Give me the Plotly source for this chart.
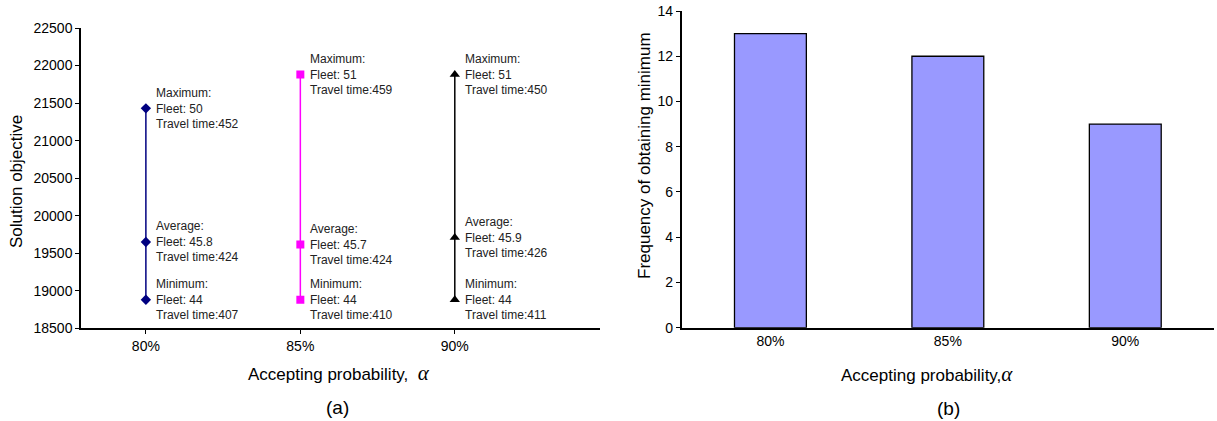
import plotly.graph_objects as go

# ---------------- data ----------------
categories = ["80%", "85%", "90%"]
max_obj = [21430, 21880, 21880]
avg_obj = [19650, 19615, 19710]
min_obj = [18880, 18880, 18880]
max_fleet = ["50", "51", "51"]
max_time = ["452", "459", "450"]
avg_fleet = ["45.8", "45.7", "45.9"]
avg_time = ["424", "424", "426"]
min_fleet = ["44", "44", "44"]
min_time = ["407", "410", "411"]
freq_min = [13, 12, 9]

y1_ticks = [18500, 19000, 19500, 20000, 20500, 21000, 21500, 22000, 22500]
y2_ticks = [0, 2, 4, 6, 8, 10, 12, 14]

# ---------------- styles ----------------
W, H = 1217, 421
FONT = "Liberation Sans, Arial, sans-serif"
series_colors = ["#000080", "#FF00FF", "#000000"]
series_symbols = ["diamond", "square", "triangle-up"]
series_sizes = [8, 8, 9]

fig = go.Figure()

for i, cat in enumerate(categories):
    fig.add_trace(go.Scatter(
        x=[cat, cat, cat],
        y=[min_obj[i], avg_obj[i], max_obj[i]],
        mode="lines+markers",
        line=dict(color=series_colors[i], width=1.5),
        marker=dict(symbol=series_symbols[i], size=series_sizes[i], color=series_colors[i]),
        xaxis="x", yaxis="y", showlegend=False, hoverinfo="skip",
    ))

fig.add_trace(go.Bar(
    x=categories, y=freq_min, width=0.405,
    marker=dict(color="#9999FF", line=dict(color="#000000", width=1.3)),
    xaxis="x2", yaxis="y2", showlegend=False, hoverinfo="skip",
))

annotations = []
for i, cat in enumerate(categories):
    for label, yv, fl, tt in [
        ("Maximum:", max_obj[i], max_fleet[i], max_time[i]),
        ("Average:", avg_obj[i], avg_fleet[i], avg_time[i]),
        ("Minimum:", min_obj[i], min_fleet[i], min_time[i]),
    ]:
        annotations.append(dict(
            x=cat, y=yv, xref="x", yref="y",
            text=f"{label}<br>Fleet: {fl}<br>Travel time:{tt}",
            showarrow=False, xanchor="left", yanchor="middle", align="left",
            xshift=8, font=dict(family=FONT, size=12, color="#222222"),
        ))

def px(xp, yp):
    return xp / W, 1 - yp / H

alpha = ("<span style='font-family:Liberation Serif, Times New Roman, serif;"
         "font-size:21px'><i>α</i></span>")

for (xp, yp), text, size, angle in [
    ((16, 182), "Solution objective", 17, -90),
    ((339, 373), "Accepting probability,  " + alpha, 17, 0),
    ((337, 407), "(a)", 19, 0),
    ((644, 156), "Frequency of obtaining minimum", 17, -90),
    ((927, 374), "Accepting probability," + alpha, 17, 0),
    ((948, 408), "(b)", 19, 0),
]:
    x, y = px(xp, yp)
    annotations.append(dict(
        x=x, y=y, xref="paper", yref="paper", text=text, showarrow=False,
        xanchor="center", yanchor="middle", textangle=angle,
        font=dict(family=FONT, size=size, color="#000000"),
    ))

axis_common = dict(showgrid=False, zeroline=False, showline=True, linecolor="#000000",
                   linewidth=1.5, mirror=False, automargin=False,
                   tickfont=dict(family=FONT, size=14, color="#000000"))

fig.update_layout(
    width=W, height=H,
    margin=dict(l=0, r=0, t=0, b=0, pad=0, autoexpand=False),
    paper_bgcolor="#FFFFFF", plot_bgcolor="#FFFFFF",
    annotations=annotations,
    xaxis=dict(domain=[81 / W, 600 / W], type="category", range=[-0.42, 2.94],
               ticks="outside", ticklen=4, tickcolor="#000000", anchor="y", **axis_common),
    yaxis=dict(domain=[1 - 328.3 / H, 1 - 28 / H], range=[18500, 22500],
               tickvals=y1_ticks, tickformat="d", ticks="outside", ticklen=4,
               tickcolor="#000000", anchor="x", **axis_common),
    xaxis2=dict(domain=[681.7 / W, 1214 / W], type="category", range=[-0.5, 2.5],
                ticks="", anchor="y2", **axis_common),
    yaxis2=dict(domain=[1 - 327.7 / H, 1 - 11 / H], range=[0, 14],
                tickvals=y2_ticks, tickformat="d", ticks="outside", ticklen=4,
                tickcolor="#000000", anchor="x2", **axis_common),
)

fig.write_html("out.html")
